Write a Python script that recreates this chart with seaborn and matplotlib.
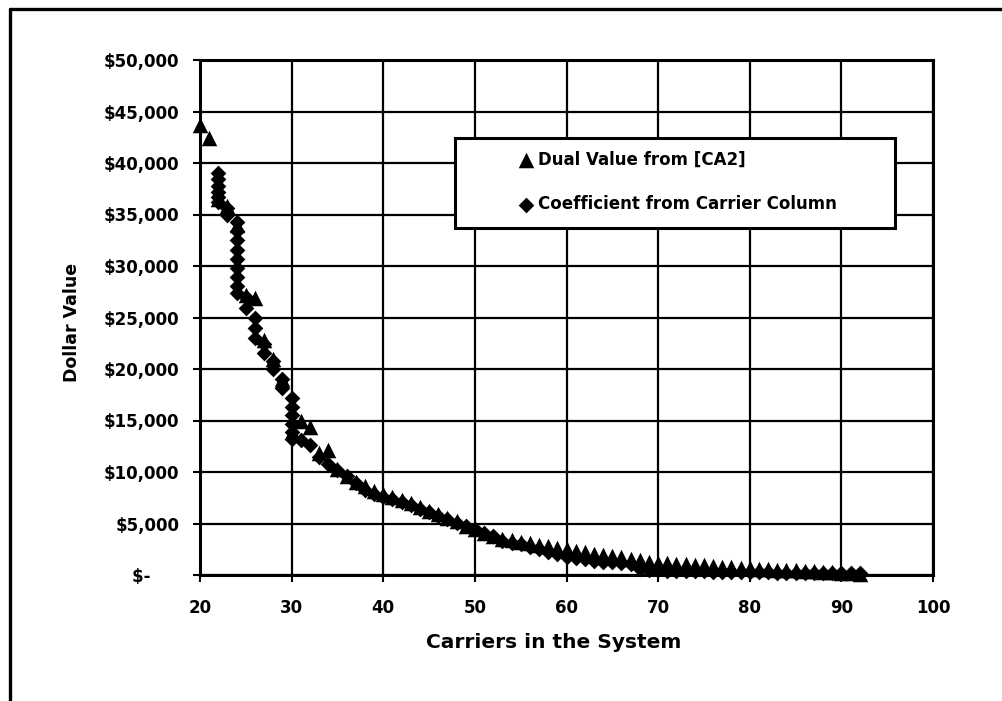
import matplotlib
matplotlib.use("Agg")
import matplotlib.pyplot as plt
import seaborn as sns
from matplotlib.patches import Rectangle
from matplotlib.lines import Line2D

# ---------------- data ----------------
dual_x = list(range(20, 93))
dual_y = [43700, 42400, 36500, 35800, 34000, 27200, 26900, 22800, 21000, 19000,
          13900, 15000, 14400, 11800, 12100, 10300, 9600, 9000, 8600, 8200,
          7900, 7600, 7300, 7000, 6600, 6200, 5900, 5500, 5200, 4800,
          4450, 4100, 3750, 3450, 3350, 3250, 3100, 2950, 2800, 2650,
          2500, 2350, 2200, 2050, 1950, 1850, 1700, 1600, 1450, 1300,
          1200, 1150, 1100, 1050, 1000, 950, 880, 820, 760, 700,
          640, 600, 560, 520, 480, 440, 400, 350, 300, 250,
          200, 150, 100]

coef_x = [22, 22, 22, 22, 22, 22,
          23, 23,
          24, 24, 24, 24, 24, 24, 24, 24, 24,
          25, 25,
          26, 26, 26,
          27, 27,
          28, 28,
          29, 29,
          30, 30, 30, 30, 30, 30,
          31, 32, 33, 34, 35, 36, 37, 38, 39, 40,
          41, 42, 43, 44, 45, 46, 47, 48, 49, 50,
          51, 52, 53, 54, 55, 56, 57, 58, 59, 60,
          61, 62, 63, 64, 65, 66, 67, 68, 69, 70,
          71, 72, 73, 74, 75, 76, 77, 78, 79, 80,
          81, 82, 83, 84, 85, 86, 87, 88, 89, 90,
          91, 92]
coef_y = [39000, 38400, 37800, 37200, 36700, 36200,
          35600, 35000,
          34300, 33400, 32500, 31600, 30700, 29800, 28900, 28100, 27400,
          27000, 25900,
          25000, 24000, 23000,
          22400, 21600,
          20800, 20000,
          19000, 18200,
          17200, 16300, 15500, 14700, 13900, 13200,
          13100, 12600, 11500, 10800, 10200, 9600, 8900, 8300, 7900, 7600,
          7400, 7100, 6800, 6450, 6100, 5750, 5400, 5050, 4750, 4450,
          4100, 3750, 3300, 3150, 3000, 2750, 2500, 2250, 2000, 1750,
          1650, 1550, 1400, 1300, 1250, 1150, 1100, 550, 500, 450,
          420, 400, 380, 360, 340, 320, 300, 290, 280, 270,
          260, 250, 240, 230, 220, 210, 200, 190, 180, 170,
          160, 150]

series_labels = ["Dual Value from [CA2]", "Coefficient from Carrier Column"]
x_ticks = [20, 30, 40, 50, 60, 70, 80, 90, 100]
y_ticks = [0, 5000, 10000, 15000, 20000, 25000, 30000, 35000, 40000, 45000, 50000]
y_tick_labels = ["$-     ", "$5,000", "$10,000", "$15,000", "$20,000", "$25,000",
                 "$30,000", "$35,000", "$40,000", "$45,000", "$50,000"]
x_label = "Carriers in the System"
y_label = "Dollar Value"

# ---------------- figure ----------------
sns.set_style("white")
plt.rcParams["font.family"] = ["DejaVu Sans"]
plt.rcParams["text.color"] = "black"
plt.rcParams["axes.labelcolor"] = "black"

fig = plt.figure(figsize=(10.03, 7.01), dpi=100)
fig.patch.set_facecolor("white")
ax = fig.add_axes([200 / 1003, 126 / 701, 733 / 1003, 515 / 701])

sns.scatterplot(x=dual_x, y=dual_y, marker="^", s=125, color="black",
                edgecolor="black", linewidth=0, ax=ax, label=series_labels[0],
                clip_on=False, zorder=3)
sns.scatterplot(x=coef_x, y=coef_y, marker="D", s=64, color="black",
                edgecolor="black", linewidth=0, ax=ax, label=series_labels[1],
                clip_on=False, zorder=3)

ax.set_xlim(20, 100)
ax.set_ylim(0, 50000)
ax.set_xticks(x_ticks)
ax.set_xticklabels([str(t) for t in x_ticks])
ax.set_yticks(y_ticks)
ax.set_yticklabels(y_tick_labels)

for lab in ax.get_xticklabels() + ax.get_yticklabels():
    lab.set_fontweight("bold")
    lab.set_fontsize(12)
    lab.set_color("black")

ax.tick_params(axis="both", which="major", direction="out", length=5, width=1.5,
               colors="black", bottom=True, left=True)
ax.tick_params(axis="y", pad=10)
ax.tick_params(axis="x", pad=12)

ax.grid(True, color="black", linewidth=1.6)
ax.set_axisbelow(True)
for sp in ax.spines.values():
    sp.set_visible(True)
    sp.set_color("black")
    sp.set_linewidth(2.2)

ax.set_xlabel(x_label, fontsize=14.5, fontweight="bold", color="black")
ax.set_ylabel(y_label, fontsize=12.5, fontweight="bold", color="black")
ax.xaxis.set_label_coords(0.483, -0.112)
ax.yaxis.set_label_coords(-0.163, 0.49)

# legend box
box = Rectangle((0.3479, 0.6738), 0.6003, 0.1748, transform=ax.transAxes,
                facecolor="white", edgecolor="black", linewidth=2.2, zorder=4.5,
                clip_on=False)
ax.add_patch(box)
handles, labels = ax.get_legend_handles_labels()
leg = ax.legend(handles, labels, loc="upper left", bbox_to_anchor=(0.4356, 0.8247),
                frameon=False, borderpad=0, borderaxespad=0, handlelength=0.8,
                handletextpad=0.35, labelspacing=1.6,
                prop={"family": "DejaVu Sans", "weight": "bold", "size": 12})
for t in leg.get_texts():
    t.set_color("black")
leg.set_zorder(6)

# outer page frame (top and left edges)
fig.add_artist(Line2D([10 / 1003, 1.0], [1 - 9 / 701, 1 - 9 / 701],
                      transform=fig.transFigure, color="black", linewidth=2.4))
fig.add_artist(Line2D([10 / 1003, 10 / 1003], [0.0, 1 - 9 / 701],
                      transform=fig.transFigure, color="black", linewidth=2.4))

fig.savefig("out.png", dpi=100, facecolor="white")
